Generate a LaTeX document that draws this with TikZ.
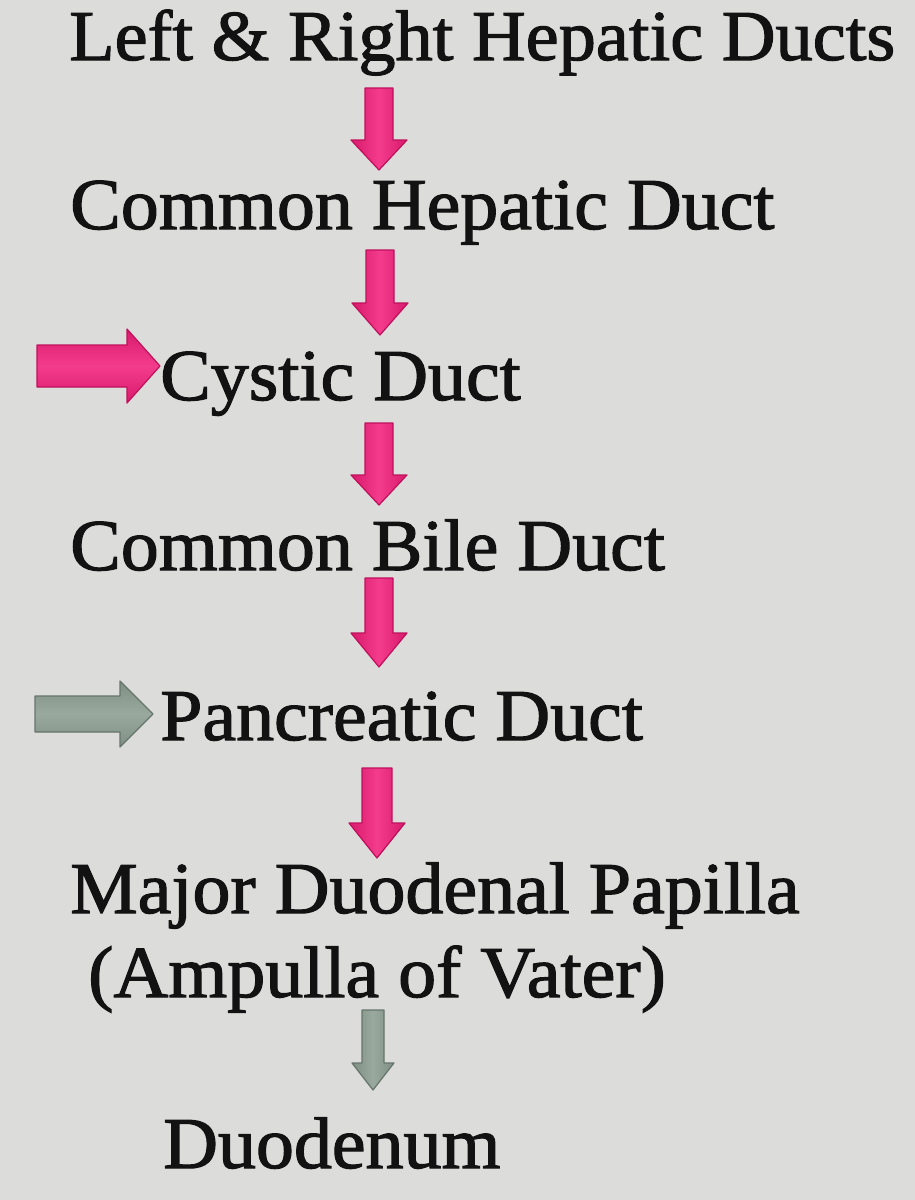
\documentclass[tikz,border=0pt]{standalone}
\usepackage{fontspec}
\newfontfamily\lblfont{Liberation Serif}[FakeBold=1.6, FakeStretch=1.04]
\definecolor{bgc}{HTML}{DCDCDB}
\definecolor{ink}{HTML}{121212}
\definecolor{pkmid}{HTML}{F43C8C}
\definecolor{pkedge}{HTML}{D81A6C}
\definecolor{pkline}{HTML}{C0105C}
\definecolor{gymid}{HTML}{99A99E}
\definecolor{gyedge}{HTML}{7F8F84}
\definecolor{gyline}{HTML}{66756B}
\tikzset{
  lbl/.style={inner sep=0pt, anchor=base west, text=ink, font=\lblfont\fontsize{73}{80}\selectfont},
  pinkdown/.style={left color=pkedge, right color=pkedge, middle color=pkmid, draw=pkline, line width=1.2pt, line join=round},
  graydown/.style={left color=gyedge, right color=gyedge, middle color=gymid, draw=gyline, line width=1.2pt, line join=round},
  pinkright/.style={top color=pkedge, bottom color=pkedge, middle color=pkmid, draw=pkline, line width=1.2pt, line join=round},
  grayright/.style={top color=gyedge, bottom color=gyedge, middle color=gymid, draw=gyline, line width=1.2pt, line join=round}
}
% #1 style, #2 cx, #3 half shaft, #4 half head, #5 top, #6 head start, #7 tip
\newcommand\dnarr[7]{\path[#1] (#2-#3,#5) -- (#2+#3,#5) -- (#2+#3,#6) -- (#2+#4,#6) -- (#2,#7) -- (#2-#4,#6) -- (#2-#3,#6) -- cycle;}
% #1 style, #2 cy, #3 half shaft, #4 half head, #5 left, #6 head start, #7 tip
\newcommand\rtarr[7]{\path[#1] (#5,#2-#3) -- (#6,#2-#3) -- (#6,#2-#4) -- (#7,#2) -- (#6,#2+#4) -- (#6,#2+#3) -- (#5,#2+#3) -- cycle;}
\begin{document}
\begin{tikzpicture}[x=1pt, y=-1pt]
\fill[bgc] (0,0) rectangle (915,1200);
\useasboundingbox (0,0) rectangle (915,1200);

\node[lbl, font=\lblfont\fontsize{71.5}{80}\selectfont] (l1) at (69,60) {Left \& Right Hepatic Ducts};
\node[lbl] (l2) at (70,229) {Common Hepatic Duct};
\node[lbl] (l3) at (160,400) {Cystic Duct};
\node[lbl] (l4) at (70,570) {Common Bile Duct};
\node[lbl] (l5) at (160,740) {Pancreatic Duct};
\node[lbl] (l6) at (70,913) {Major Duodenal Papilla};
\node[lbl] (l7) at (88,997) {(Ampulla of Vater)};
\node[lbl] (l8) at (163,1168) {Duodenum};

\dnarr{pinkdown}{379}{14}{28}{88}{140}{170}
\dnarr{pinkdown}{380}{14}{28}{250}{303}{335}
\dnarr{pinkdown}{379}{14}{28}{423}{475}{505}
\dnarr{pinkdown}{379}{14}{28}{578}{633}{667}
\dnarr{pinkdown}{377}{15}{28}{768}{823}{858}
\dnarr{graydown}{373}{11}{21}{1010}{1063}{1090}

\rtarr{pinkright}{366}{21}{37}{37}{127}{160}
\rtarr{grayright}{714}{18}{33}{35}{120}{153}
\end{tikzpicture}
\end{document}
